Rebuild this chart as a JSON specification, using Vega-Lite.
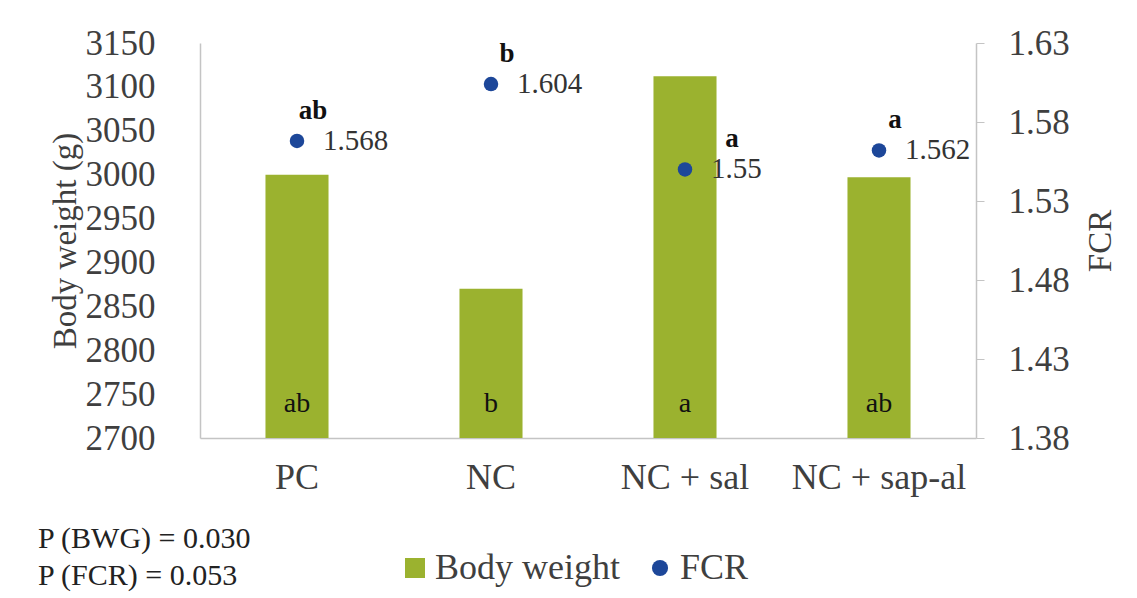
{
  "$schema": "https://vega.github.io/schema/vega-lite/v6.json",
  "autosize": {"type": "none"},
  "padding": {"left": 200, "top": 43, "right": 161, "bottom": 160},
  "width": 776,
  "height": 395,
  "background": "white",
  "title": {
    "text": ["P (BWG) = 0.030", "P (FCR) = 0.053"],
    "orient": "bottom",
    "anchor": "start",
    "frame": "group",
    "font": "Liberation Serif",
    "fontSize": 30,
    "fontWeight": "normal",
    "color": "#222222",
    "lineHeight": 37,
    "dx": -162,
    "offset": -62
  },
  "data": {
    "values": [
      {"group": "PC", "bw": 3000, "fcr": 1.568, "bwLetter": "ab", "fcrLetter": "ab"},
      {"group": "NC", "bw": 2870, "fcr": 1.604, "bwLetter": "b", "fcrLetter": "b"},
      {"group": "NC + sal", "bw": 3112, "fcr": 1.55, "bwLetter": "a", "fcrLetter": "a"},
      {"group": "NC + sap-al", "bw": 2997, "fcr": 1.562, "bwLetter": "ab", "fcrLetter": "a"}
    ]
  },
  "encoding": {
    "x": {
      "field": "group",
      "type": "nominal",
      "sort": null,
      "scale": {"paddingInner": 0.675, "paddingOuter": 0.3375},
      "axis": {
        "title": null,
        "labelAngle": 0,
        "ticks": false,
        "labelPadding": 22,
        "labelFontSize": 36,
        "labelFont": "Liberation Serif",
        "labelColor": "#3f3f3f",
        "domainColor": "#c4c4c4",
        "domainWidth": 1.5
      }
    }
  },
  "layer": [
    {
      "layer": [
        {
          "mark": {"type": "bar", "clip": true},
          "encoding": {
            "y": {
              "field": "bw",
              "type": "quantitative",
              "scale": {"domain": [2700, 3150], "nice": false, "zero": false},
              "axis": {
                "title": "Body weight (g)",
                "orient": "left",
                "values": [2700, 2750, 2800, 2850, 2900, 2950, 3000, 3050, 3100, 3150],
                "format": "d",
                "ticks": false,
                "tickSize": 0,
                "grid": false,
                "labelPadding": 45,
                "labelFontSize": 35,
                "labelFont": "Liberation Serif",
                "labelColor": "#3f3f3f",
                "titleFont": "Liberation Serif",
                "titleFontSize": 33,
                "titleFontWeight": "normal",
                "titleColor": "#3f3f3f",
                "titlePadding": 3,
                "domainColor": "#c4c4c4",
                "domainWidth": 1.5
              }
            },
            "y2": {"datum": 2700},
            "color": {
              "datum": "Body weight",
              "scale": {"domain": ["Body weight", "FCR"], "range": ["#9bb22f", "#1d4799"]},
              "legend": {
                "orient": "none",
                "legendX": 197,
                "legendY": 507,
                "direction": "horizontal",
                "title": null,
                "labelFont": "Liberation Serif",
                "labelFontSize": 36,
                "labelColor": "#3f3f3f",
                "labelLimit": 400,
                "labelOffset": 2,
                "columnPadding": 22,
                "symbolSize": 400,
                "symbolStrokeWidth": 0,
                "encode": {
                  "symbols": {
                    "update": {
                      "shape": {"signal": "datum.value === 'FCR' ? 'circle' : 'square'"},
                      "size": {"signal": "datum.value === 'FCR' ? 260 : 400"}
                    }
                  }
                }
              }
            }
          }
        },
        {
          "mark": {"type": "text", "font": "Liberation Serif", "fontSize": 28, "fill": "#111111", "baseline": "middle", "dy": -34},
          "encoding": {
            "y": {"datum": 2700, "type": "quantitative", "axis": {"title": "Body weight (g)"}},
            "text": {"field": "bwLetter", "type": "nominal"}
          }
        }
      ]
    },
    {
      "layer": [
        {
          "mark": {"type": "point", "filled": true, "size": 210, "opacity": 1},
          "encoding": {
            "y": {
              "field": "fcr",
              "type": "quantitative",
              "scale": {"domain": [1.38, 1.63], "nice": false, "zero": false},
              "axis": {
                "title": "FCR",
                "orient": "right",
                "values": [1.38, 1.43, 1.48, 1.53, 1.58, 1.63],
                "format": ".2f",
                "grid": false,
                "ticks": true,
                "tickSize": 8,
                "tickColor": "#c4c4c4",
                "labelPadding": 24,
                "labelFontSize": 35,
                "labelFont": "Liberation Serif",
                "labelColor": "#3f3f3f",
                "titleFont": "Liberation Serif",
                "titleFontSize": 33,
                "titleFontWeight": "normal",
                "titleColor": "#3f3f3f",
                "titleAngle": 270,
                "titlePadding": 48,
                "domainColor": "#c4c4c4",
                "domainWidth": 1.5
              }
            },
            "color": {"datum": "FCR"}
          }
        },
        {
          "mark": {"type": "text", "font": "Liberation Serif", "fontSize": 29, "fill": "#333333", "align": "left", "baseline": "middle", "dx": 26},
          "encoding": {
            "y": {"field": "fcr", "type": "quantitative"},
            "text": {"field": "fcr", "type": "nominal"}
          }
        },
        {
          "transform": [{"filter": "datum.group !== 'NC + sal'"}],
          "mark": {"type": "text", "font": "Liberation Serif", "fontSize": 27, "fontWeight": "bold", "fill": "#111111", "baseline": "middle", "dx": 16, "dy": -30},
          "encoding": {
            "y": {"field": "fcr", "type": "quantitative"},
            "text": {"field": "fcrLetter", "type": "nominal"}
          }
        },
        {
          "transform": [{"filter": "datum.group === 'NC + sal'"}],
          "mark": {"type": "text", "font": "Liberation Serif", "fontSize": 27, "fontWeight": "bold", "fill": "#111111", "baseline": "middle", "dx": 47, "dy": -30},
          "encoding": {
            "y": {"field": "fcr", "type": "quantitative"},
            "text": {"field": "fcrLetter", "type": "nominal"}
          }
        }
      ]
    }
  ],
  "resolve": {"scale": {"y": "independent"}},
  "config": {
    "view": {"stroke": null},
    "axis": {"grid": false}
  }
}
